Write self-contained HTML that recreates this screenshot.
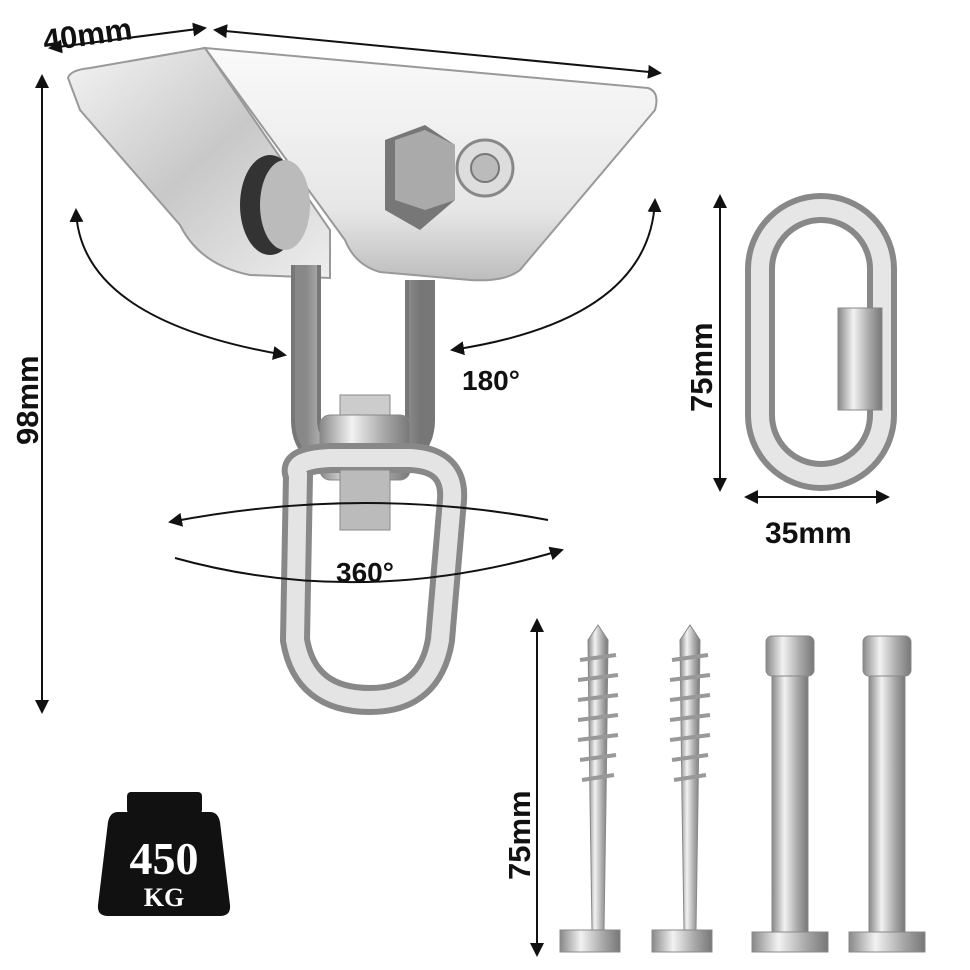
<!DOCTYPE html>
<html><head><meta charset="utf-8"><style>
html,body{margin:0;padding:0;background:#fff;}
svg{display:block;}
text{font-family:"Liberation Sans",sans-serif;font-weight:bold;fill:#111;}
</style></head><body>
<svg width="970" height="970" viewBox="0 0 970 970" xmlns="http://www.w3.org/2000/svg">
<defs>
<marker id="ah2" markerWidth="14" markerHeight="14" refX="12" refY="7" orient="auto-start-reverse" markerUnits="userSpaceOnUse"><path d="M0,0 L14,7 L0,14 Z" fill="#111"/></marker>
<linearGradient id="m1" x1="0" y1="0" x2="1" y2="1"><stop offset="0" stop-color="#f4f4f4"/><stop offset=".5" stop-color="#c8c8c8"/><stop offset="1" stop-color="#eee"/></linearGradient>
<linearGradient id="m2" x1="0" y1="0" x2="0" y2="1"><stop offset="0" stop-color="#fafafa"/><stop offset=".7" stop-color="#e6e6e6"/><stop offset="1" stop-color="#bdbdbd"/></linearGradient>
<linearGradient id="bar" x1="0" y1="0" x2="1" y2="0"><stop offset="0" stop-color="#888"/><stop offset=".35" stop-color="#f2f2f2"/><stop offset=".7" stop-color="#aaa"/><stop offset="1" stop-color="#777"/></linearGradient>
</defs>

<line x1="205" y1="28" x2="50" y2="48" stroke="#111" stroke-width="2" marker-end="url(#ah2)" marker-start="url(#ah2)"/>
<line x1="215" y1="30" x2="660" y2="73" stroke="#111" stroke-width="2" marker-end="url(#ah2)" marker-start="url(#ah2)"/>
<text x="42" y="42" font-size="31" transform="rotate(-8 110 28)">40mm</text>
<line x1="42" y1="76" x2="42" y2="712" stroke="#111" stroke-width="2" marker-end="url(#ah2)" marker-start="url(#ah2)"/>
<text font-size="31" transform="translate(38 445) rotate(-90)">98mm</text>

<path d="M68,78 Q70,70 90,68 L205,48 L330,230 L330,278 L250,275 Q200,265 180,225 L80,110 Z" fill="url(#m1)" stroke="#999" stroke-width="2"/>
<path d="M205,48 L648,88 Q660,92 655,110 L520,270 Q505,282 470,280 L380,272 Q355,265 345,240 Z" fill="url(#m2)" stroke="#999" stroke-width="2"/>
<ellipse cx="270" cy="205" rx="30" ry="50" fill="#333"/>
<ellipse cx="285" cy="205" rx="25" ry="45" fill="#bbb"/>
<path d="M385,140 L425,125 L455,145 L455,200 L420,230 L385,210Z" fill="#777"/>
<path d="M395,140 L425,130 L455,145 L455,200 L425,210 L395,200Z" fill="#aaa"/>
<circle cx="485" cy="168" r="28" fill="#ddd" stroke="#888" stroke-width="3"/>
<circle cx="485" cy="168" r="14" fill="#bbb" stroke="#777" stroke-width="2"/>

<path d="M306,265 L306,420 Q306,460 360,460 Q420,460 420,420 L420,280" fill="none" stroke="#777" stroke-width="30"/>
<path d="M306,265 L306,420 Q306,460 360,460 Q420,460 420,420 L420,280" fill="none" stroke="url(#bar)" stroke-width="22"/>
<rect x="340" y="395" width="50" height="20" fill="#ccc" stroke="#888"/>
<rect x="320" y="415" width="90" height="65" rx="10" fill="url(#bar)" stroke="#888"/>
<path d="M298,475 Q290,460 330,458 L410,458 Q455,460 452,500 L440,640 Q430,700 370,700 Q305,700 295,640 Z" fill="none" stroke="#888" stroke-width="30"/>
<path d="M298,475 Q290,460 330,458 L410,458 Q455,460 452,500 L440,640 Q430,700 370,700 Q305,700 295,640 Z" fill="none" stroke="#e4e4e4" stroke-width="18"/>
<rect x="340" y="470" width="50" height="60" fill="#bbb" stroke="#888"/>

<path d="M76,210 Q80,320 285,355" fill="none" stroke="#111" stroke-width="2" marker-end="url(#ah2)" marker-start="url(#ah2)"/>
<path d="M655,200 Q650,320 452,350" fill="none" stroke="#111" stroke-width="2" marker-end="url(#ah2)" marker-start="url(#ah2)"/>
<text x="462" y="390" font-size="28">180°</text>

<path d="M170,522 Q362,485 548,520" fill="none" stroke="#111" stroke-width="2" marker-start="url(#ah2)"/>
<path d="M175,558 Q362,610 562,550" fill="none" stroke="#111" stroke-width="2" marker-end="url(#ah2)"/>
<text x="336" y="582" font-size="28">360°</text>

<line x1="720" y1="196" x2="720" y2="490" stroke="#111" stroke-width="2" marker-end="url(#ah2)" marker-start="url(#ah2)"/>
<text font-size="31" transform="translate(712 412) rotate(-90)">75mm</text>
<rect x="760" y="208" width="122" height="268" rx="61" fill="none" stroke="#888" stroke-width="30"/>
<rect x="760" y="208" width="122" height="268" rx="61" fill="none" stroke="#e6e6e6" stroke-width="18"/>
<rect x="838" y="308" width="44" height="102" fill="url(#bar)" stroke="#888"/>
<line x1="746" y1="497" x2="888" y2="497" stroke="#111" stroke-width="2" marker-end="url(#ah2)" marker-start="url(#ah2)"/>
<text x="765" y="543" font-size="30">35mm</text>

<line x1="537" y1="620" x2="537" y2="955" stroke="#111" stroke-width="2" marker-end="url(#ah2)" marker-start="url(#ah2)"/>
<text font-size="31" transform="translate(530 880) rotate(-90)">75mm</text>
<g>
<path d="M588,640 L598,625 L608,640 L606,800 L604,930 L592,930 L590,800 Z" fill="url(#bar)" stroke="#888"/>
<path d="M580,660 L616,655 M578,680 L618,675 M578,700 L618,695 M578,720 L618,715 M578,740 L618,735 M580,760 L616,755 M582,780 L614,775" stroke="#999" stroke-width="4"/>
<rect x="560" y="930" width="60" height="22" fill="url(#bar)" stroke="#888"/>
</g>
<g transform="translate(92 0)">
<path d="M588,640 L598,625 L608,640 L606,800 L604,930 L592,930 L590,800 Z" fill="url(#bar)" stroke="#888"/>
<path d="M580,660 L616,655 M578,680 L618,675 M578,700 L618,695 M578,720 L618,715 M578,740 L618,735 M580,760 L616,755 M582,780 L614,775" stroke="#999" stroke-width="4"/>
<rect x="560" y="930" width="60" height="22" fill="url(#bar)" stroke="#888"/>
</g>
<g>
<rect x="766" y="636" width="48" height="40" rx="6" fill="url(#bar)" stroke="#888"/>
<rect x="772" y="676" width="36" height="258" fill="url(#bar)" stroke="#888"/>
<rect x="752" y="932" width="76" height="20" fill="url(#bar)" stroke="#888"/>
</g>
<g transform="translate(97 0)">
<rect x="766" y="636" width="48" height="40" rx="6" fill="url(#bar)" stroke="#888"/>
<rect x="772" y="676" width="36" height="258" fill="url(#bar)" stroke="#888"/>
<rect x="752" y="932" width="76" height="20" fill="url(#bar)" stroke="#888"/>
</g>

<rect x="127" y="792" width="75" height="22" rx="4" fill="#111"/>
<path d="M118,812 L210,812 Q218,812 220,822 L230,905 Q231,916 220,916 L108,916 Q97,916 98,905 L108,822 Q110,812 118,812Z" fill="#111"/>
<text x="164" y="874" font-size="46" text-anchor="middle" style="font-family:'Liberation Serif',serif;fill:#fff">450</text>
<text x="164" y="906" font-size="26" text-anchor="middle" style="font-family:'Liberation Serif',serif;fill:#fff">KG</text>
</svg>
</body></html>
